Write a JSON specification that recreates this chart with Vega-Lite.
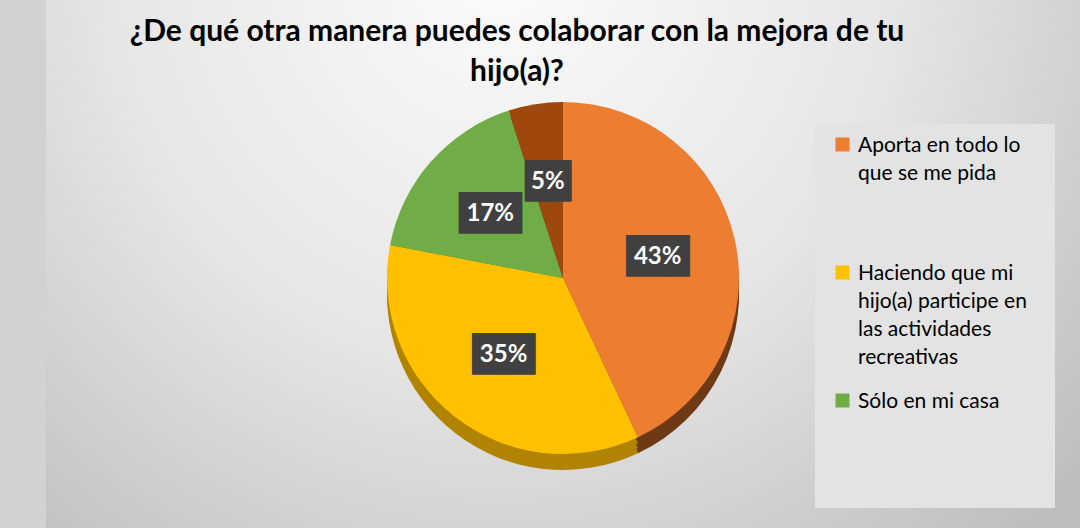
{
  "$schema": "https://vega.github.io/schema/vega-lite/v6.json",
  "width": 1034,
  "height": 556,
  "autosize": {"type": "none"},
  "padding": {"left": 46, "top": 0, "right": 0, "bottom": 0},
  "background": "#d2d2d2",
  "view": {
    "stroke": null,
    "fill": {
      "gradient": "radial",
      "x1": 0.44, "y1": 0.2, "r1": 0,
      "x2": 0.44, "y2": 0.2, "r2": 0.75,
      "stops": [
        {"offset": 0, "color": "#fbfbfb"},
        {"offset": 0.5, "color": "#e6e6e6"},
        {"offset": 1, "color": "#bdbdbd"}
      ]
    }
  },
  "title": {
    "text": ["¿De qué otra manera puedes colaborar con la mejora de tu", "hijo(a)?"],
    "font": "Lato",
    "fontSize": 30,
    "fontWeight": "bold",
    "color": "#000000",
    "anchor": "middle",
    "frame": "group",
    "lineHeight": 40,
    "dx": -46,
    "offset": -87
  },
  "data": {
    "values": [
      {"respuesta": "Aporta en todo lo que se me pida", "porcentaje": 0.43, "orden": 1},
      {"respuesta": "Haciendo que mi hijo(a) participe en las actividades recreativas", "porcentaje": 0.35, "orden": 2},
      {"respuesta": "Sólo en mi casa", "porcentaje": 0.17, "orden": 3},
      {"respuesta": "Otra", "porcentaje": 0.05, "orden": 4}
    ]
  },
  "encoding": {
    "theta": {"field": "porcentaje", "type": "quantitative", "stack": true},
    "order": {"field": "orden", "type": "ordinal"}
  },
  "layer": [
    {
      "mark": {"type": "arc", "outerRadius": 176, "yOffset": 16},
      "encoding": {
        "fill": {"field": "orden", "type": "ordinal", "legend": null,
          "scale": {"domain": [1, 2, 3, 4], "range": ["#6e3a16", "#b08400", "#4b7630", "#5e2a08"]}}
      }
    },
    {
      "mark": {"type": "arc", "outerRadius": 176, "yOffset": 11},
      "encoding": {"fill": {"field": "orden", "type": "ordinal", "legend": null}}
    },
    {
      "mark": {"type": "arc", "outerRadius": 176, "yOffset": 6},
      "encoding": {"fill": {"field": "orden", "type": "ordinal", "legend": null}}
    },
    {
      "mark": {"type": "arc", "outerRadius": 176},
      "encoding": {
        "color": {
          "field": "respuesta", "type": "nominal",
          "scale": {"domain": ["Aporta en todo lo que se me pida", "Haciendo que mi hijo(a) participe en las actividades recreativas", "Sólo en mi casa", "Otra"],
                    "range": ["#ED7D31", "#FFC000", "#70AD47", "#9E480E"]},
          "legend": {
            "title": "_____________________",
            "titleOrient": "bottom",
            "titleFont": "Lato",
            "titleFontSize": 21,
            "titleOpacity": 0,
            "titleLimit": 400,
            "titlePadding": 58,
            "orient": "none",
            "legendX": 769,
            "legendY": 124,
            "values": ["Aporta en todo lo que se me pida", "Haciendo que mi hijo(a) participe en las actividades recreativas", "Sólo en mi casa"],
            "fillColor": "#e3e3e3",
            "padding": 17,
            "symbolType": "M-1,-2H1V0H-1Z",
            "symbolSize": 196,
            "symbolStrokeWidth": 0,
            "labelFont": "Lato",
            "labelFontSize": 21,
            "labelColor": "#000000",
            "labelLimit": 300,
            "labelOffset": 5,
            "labelBaseline": "alphabetic",
            "gridAlign": "all",
            "rowPadding": 22,
            "labelExpr": "datum.label == 'Aporta en todo lo que se me pida' ? ['Aporta en todo lo', 'que se me pida'] : datum.label == 'Sólo en mi casa' ? 'Sólo en mi casa' : ['Haciendo que mi', 'hijo(a) participe en', 'las actividades', 'recreativas']"
          }
        }
      }
    },
    {
      "mark": {"type": "text", "radius": 97, "font": "DejaVu Sans Mono", "fontSize": 35, "color": "#404040", "baseline": "middle", "align": "center"},
      "encoding": {
        "text": {"condition": {"test": "datum.porcentaje < 0.1", "value": "▕██▏"}, "value": "███"}
      }
    },
    {
      "mark": {"type": "text", "radius": 97, "font": "Lato", "fontSize": 24, "fontWeight": "bold", "color": "#ffffff", "baseline": "middle", "align": "center"},
      "encoding": {
        "text": {"field": "porcentaje", "type": "quantitative", "format": ".0%"}
      }
    }
  ],
  "config": {
    "style": {"guide-label": {"lineHeight": 28}}
  }
}
